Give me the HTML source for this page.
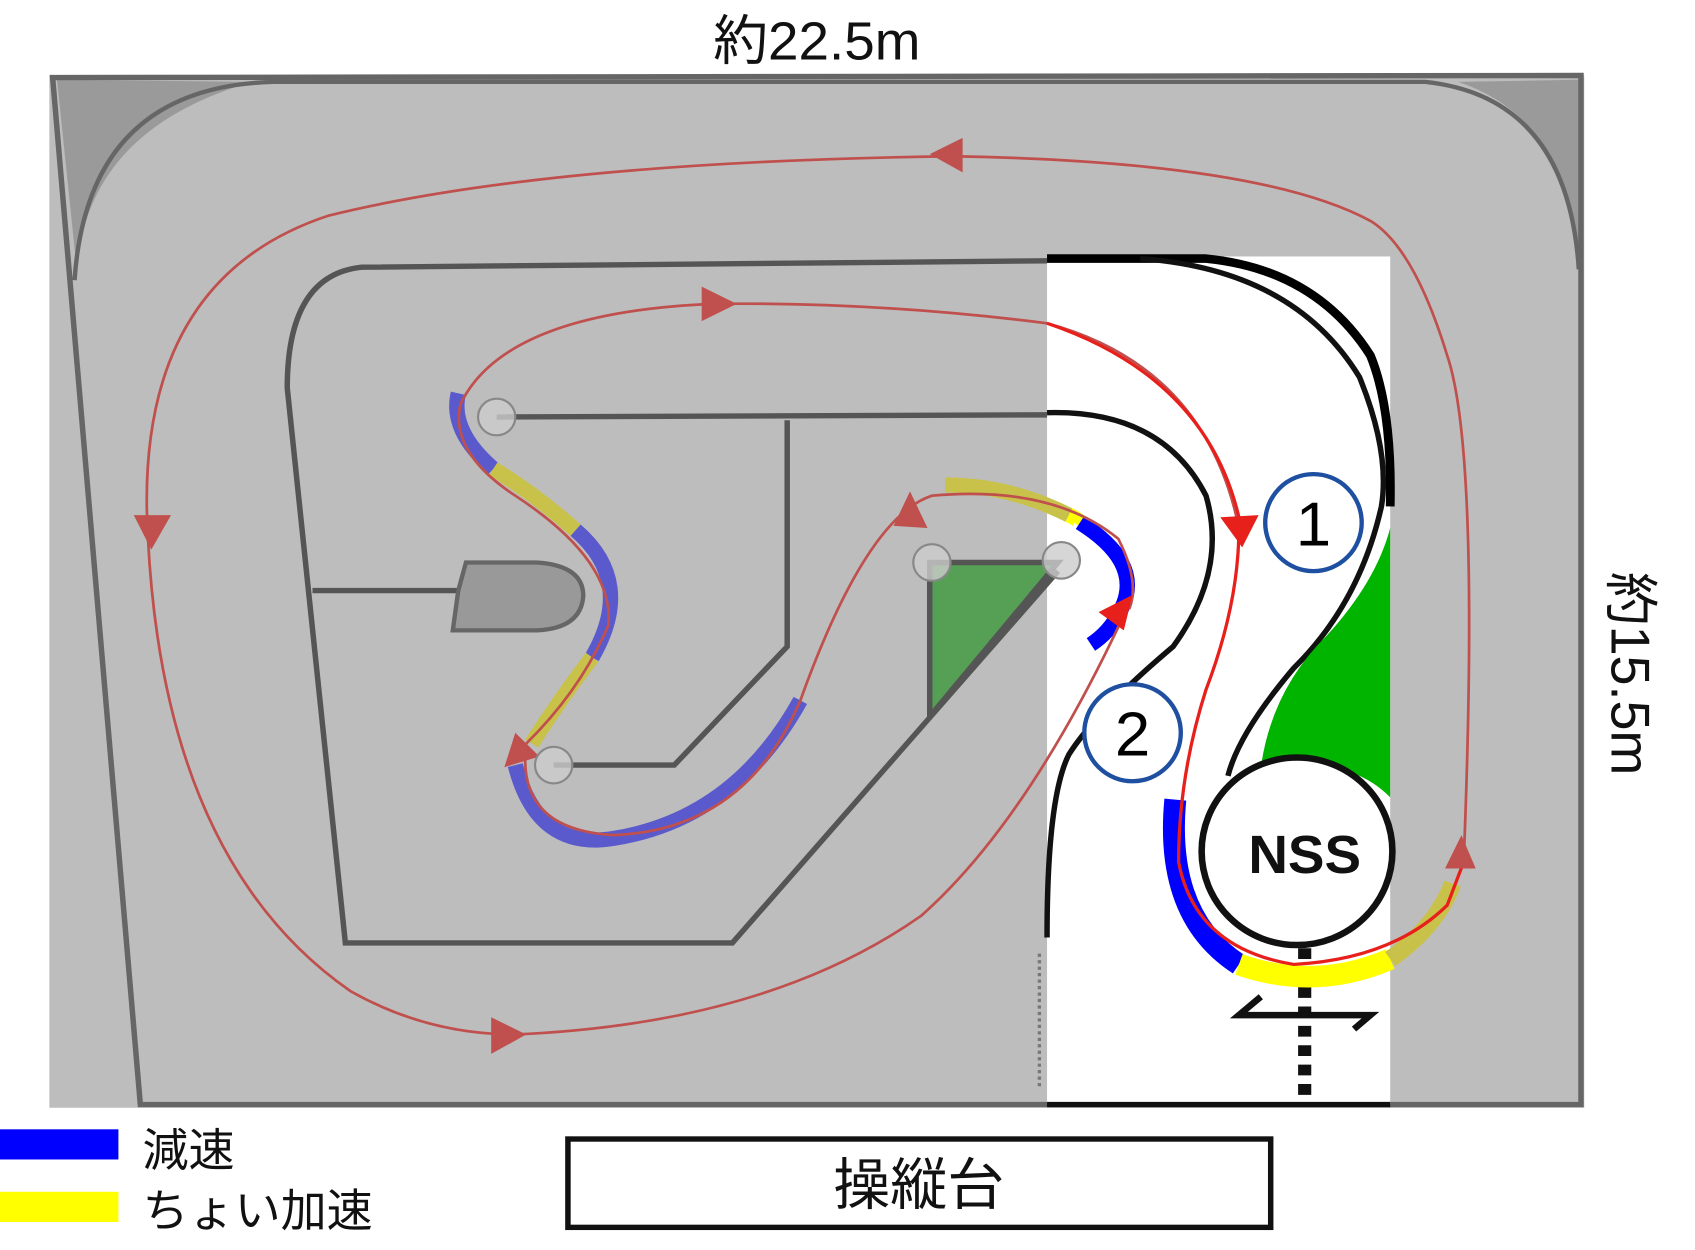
<!DOCTYPE html>
<html><head><meta charset="utf-8"><style>
html,body{margin:0;padding:0;background:#fff;width:1695px;height:1250px;overflow:hidden}
svg{display:block}
text{font-family:"Liberation Sans","Noto Sans CJK JP",sans-serif}
</style></head><body>
<svg width="1695" height="1250" viewBox="0 0 1546 1160" preserveAspectRatio="none" xmlns="http://www.w3.org/2000/svg">
<!-- field -->
<rect x="45" y="70" width="1400" height="958" fill="#bdbdbd"/>
<path d="M52,74 L230,76 Q80,120 70,250 Z" fill="#9a9a9a"/>
<path d="M1440,74 L1330,76 Q1430,110 1440,240 Z" fill="#9a9a9a"/>
<path d="M48,72 L1442,70 L1442,1025 L128,1025 Z" fill="none" stroke="#666" stroke-width="5"/>
<path d="M68,260 Q80,80 250,76 L1300,76 Q1430,90 1440,250" fill="none" stroke="#666" stroke-width="4"/>
<!-- white region -->
<rect x="955" y="238" width="313" height="787" fill="#fff"/>
<path d="M955,1025 L1268,1025" stroke="#111" stroke-width="5"/>
<!-- inner track gray lines -->
<path d="M955,242 L330,248 Q262,255 262,360 L315,875 L668,875 L965,530" fill="none" stroke="#555" stroke-width="5"/>
<path d="M453,387 L955,385" fill="none" stroke="#555" stroke-width="5"/>
<path d="M718,390 L718,600 L615,710 L505,710" fill="none" stroke="#555" stroke-width="5"/>
<path d="M285,548 L418,548" stroke="#555" stroke-width="5"/>
<path d="M425,522 L490,522 Q532,525 532,553 Q530,583 490,585 L413,585 L418,548 Z" fill="#999" stroke="#666" stroke-width="4"/>
<path d="M848,522 L965,522 L848,665 Z" fill="#55a055" stroke="#555" stroke-width="5"/>
<!-- black track in white -->
<path d="M955,383 Q1060,380 1100,460 Q1120,530 1070,600 Q1000,660 975,700 Q955,740 955,870" fill="none" stroke="#111" stroke-width="5"/>
<path d="M955,240 L1100,240 Q1200,250 1250,330 Q1270,380 1268,470" fill="none" stroke="#000" stroke-width="8"/>
<path d="M1040,240 Q1180,250 1240,350 Q1268,420 1260,470 Q1240,560 1180,620 Q1130,680 1120,720" fill="none" stroke="#111" stroke-width="5"/>
<path d="M1268,490 L1268,740 Q1230,700 1150,712 Q1160,640 1210,590 Q1255,540 1268,490 Z" fill="#00b400"/>
<circle cx="1183" cy="790" r="87" fill="#fff" stroke="#111" stroke-width="6"/>
<text x="1190" y="810" font-size="50" font-weight="bold" text-anchor="middle" fill="#111">NSS</text>
<path d="M948,885 L948,1010" stroke="#777" stroke-width="3" stroke-dasharray="3,3"/>
<path d="M1190,880 L1190,1025" stroke="#111" stroke-width="12" stroke-dasharray="10,8"/>
<path d="M1150,925 L1130,942 L1250,942 L1235,955" fill="none" stroke="#111" stroke-width="6"/>
<!-- speed bands -->
<g fill="none" stroke-width="14">
<path d="M418,365 Q410,400 450,435" stroke="#5a5acc"/>
<path d="M450,435 Q490,460 525,492" stroke="#c9c24a"/>
<path d="M525,492 Q580,540 540,610" stroke="#5a5acc"/>
<path d="M540,610 Q510,650 485,690" stroke="#c9c24a"/>
<path d="M470,710 Q490,790 560,778 Q670,760 730,650" stroke="#5a5acc"/>
<path d="M862,450 Q920,450 975,478" stroke="#c9c24a"/>
<path d="M975,478 Q990,485 985,490" stroke="#ff0"/>
<path d="M985,485 Q1040,520 1025,560 Q1015,585 995,598" stroke="#00f"/>
<path d="M1072,742 Q1062,850 1130,895" stroke="#00f" stroke-width="20"/>
<path d="M1130,895 Q1200,920 1268,890" stroke="#ff0" stroke-width="20"/>
<path d="M1268,890 Q1310,860 1325,820" stroke="#c9c24a" stroke-width="16"/>
</g>
<!-- red paths -->
<g fill="none" stroke="#c0504d" stroke-width="2.5">
<path d="M1335,800 Q1350,420 1320,330 Q1290,230 1250,205 Q1150,150 870,145 Q500,150 300,200 Q120,260 135,500 Q150,800 320,920 Q390,960 470,960 Q700,950 840,850 Q940,760 1030,560"/>
<path d="M1130,490 Q1100,340 955,300 Q800,280 650,282 Q460,290 420,375 Q410,420 470,460 Q560,520 555,580 Q530,640 480,690 Q470,770 560,775 Q680,770 730,650 Q790,480 850,460 Q960,450 1020,500 Q1040,540 1030,565"/>
</g>
<path d="M1130,490 Q1130,560 1100,640 Q1075,720 1075,800 Q1090,880 1180,895 Q1270,890 1320,840 L1335,800" fill="none" stroke="#e8201c" stroke-width="3"/>
<path d="M955,300 Q1100,350 1130,480" fill="none" stroke="#e8201c" stroke-width="3"/>
<!-- arrowheads -->
<g fill="#c0504d">
<path d="M848,143 L878,128 L878,160 Z"/>
<path d="M672,282 L640,266 L640,298 Z"/>
<path d="M138,510 L122,478 L156,478 Z"/>
<path d="M480,960 L448,944 L448,978 Z"/>
<path d="M830,456 L815,488 L846,490 Z"/>
<path d="M460,712 L470,680 L492,702 Z"/>
<path d="M1333,775 L1318,806 L1346,806 Z"/>
</g>
<g fill="#e8201c">
<path d="M1133,508 L1113,480 L1148,478 Z"/>
<path d="M1033,552 L1025,585 L1002,568 Z"/>
</g>
<!-- poles -->
<g fill="#ccc" fill-opacity="0.8" stroke="#888" stroke-width="2">
<circle cx="453" cy="387" r="17"/><circle cx="505" cy="710" r="17"/>
<circle cx="850" cy="522" r="17"/><circle cx="968" cy="520" r="17"/>
</g>
<!-- numbered circles -->
<ellipse cx="1198" cy="485" rx="44" ry="45" fill="#fff" stroke="#1e4fa0" stroke-width="4"/>
<text x="1198" y="506" font-size="58" text-anchor="middle">1</text>
<ellipse cx="1033" cy="680" rx="44" ry="45" fill="#fff" stroke="#1e4fa0" stroke-width="4"/>
<text x="1033" y="701" font-size="58" text-anchor="middle">2</text>
<!-- labels -->
<text x="745" y="55" font-size="50" text-anchor="middle" fill="#111">約22.5m</text>
<text transform="translate(1470,625) rotate(90)" font-size="50" text-anchor="middle" fill="#111">約15.5m</text>
<rect x="0" y="1048" width="108" height="28" fill="#00f"/>
<rect x="0" y="1106" width="108" height="28" fill="#ff0"/>
<text x="130" y="1082" font-size="42" fill="#111">減速</text>
<text x="130" y="1138" font-size="42" fill="#111">ちょい加速</text>
<rect x="518" y="1057" width="641" height="82" fill="#fff" stroke="#111" stroke-width="5"/>
<text x="838" y="1118" font-size="52" text-anchor="middle" fill="#111">操縦台</text>
</svg>
</body></html>
